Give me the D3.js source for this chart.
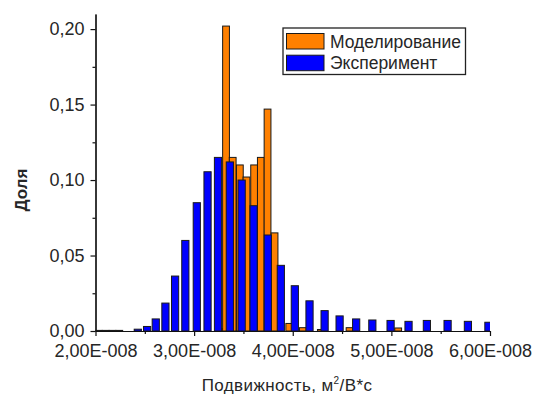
<!DOCTYPE html>
<html>
<head>
<meta charset="utf-8">
<script src="https://cdn.jsdelivr.net/npm/d3@7"></script>
<style>
  html, body { margin: 0; padding: 0; background: #fff; }
  svg { display: block; font-family: "Liberation Sans", Arial, sans-serif; }
</style>
</head>
<body>
<svg id="chart" width="535" height="394"></svg>
<script>
// Mobility bin centres, in units of 1E-008 m^2/(V*s)
const simulationX = [2.034, 2.103, 2.172, 2.241, 3.2596, 3.3235, 3.391, 3.4635, 3.531, 3.6085,
                     3.6765, 3.7444, 3.8154, 3.9645, 4.1024, 4.285, 4.576, 5.069];
// Share of each simulated bin ("Моделирование")
const simulationShare = [0.0004, 0.0004, 0.0004, 0.0004, 0.0015, 0.202, 0.115, 0.110, 0.102, 0.110,
                         0.115, 0.147, 0.065, 0.005, 0.0022, 0.001, 0.0022, 0.002];

const experimentX = [2.429, 2.523, 2.611, 2.709, 2.807, 2.911, 3.027, 3.136, 3.242, 3.362,
                     3.482, 3.603, 3.747, 3.879, 4.021, 4.170, 4.323, 4.475, 4.643, 4.807,
                     4.992, 5.174, 5.360, 5.570, 5.776, 5.984];
// Share of each measured bin ("Эксперимент")
const experimentShare = [0.0012, 0.003, 0.008, 0.0185, 0.0364, 0.060, 0.085, 0.1055, 0.115, 0.112,
                         0.100, 0.083, 0.0636, 0.0435, 0.030, 0.020, 0.0135, 0.010, 0.008, 0.0073,
                         0.007, 0.0064, 0.007, 0.007, 0.0064, 0.0058];

const xTickValues = [2, 3, 4, 5, 6];
const xTickLabels = ["2,00E-008", "3,00E-008", "4,00E-008", "5,00E-008", "6,00E-008"];
const xMinorTicks = [2.5, 3.5, 4.5, 5.5];
const yTickValues = [0, 0.05, 0.10, 0.15, 0.20];
const yTickLabels = ["0,00", "0,05", "0,10", "0,15", "0,20"];
const yMinorTicks = [0.025, 0.075, 0.125, 0.175];

const seriesNames = ["Моделирование", "Эксперимент"];
const seriesColors = ["#ff8000", "#0000ff"];

const svg = d3.select("#chart");
const plot = { left: 95.5, right: 490, top: 14, bottom: 331 };

const x = d3.scaleLinear().domain([2, 6]).range([plot.left, plot.right]);
const y = d3.scaleLinear().domain([0, 0.21]).range([plot.bottom, plot.top]);

const textColor = "#262626";
const barStroke = "#1a1a1a";

svg.append("defs").append("clipPath").attr("id", "plotClip")
  .append("rect")
  .attr("x", plot.left).attr("y", 0)
  .attr("width", plot.right - plot.left).attr("height", plot.bottom + 1);

const bars = svg.append("g").attr("clip-path", "url(#plotClip)");

function drawSeries(xs, vals, color, w) {
  const rows = xs.map((v, i) => ({ x: v, v: vals[i] }));
  bars.append("g").selectAll("rect").data(rows).join("rect")
    .attr("x", d => x(d.x) - w / 2)
    .attr("y", d => y(d.v))
    .attr("width", w)
    .attr("height", d => y(0) - y(d.v))
    .attr("fill", color)
    .attr("stroke", barStroke)
    .attr("stroke-width", 1);
}

// Simulated bins underneath, measured bins on top
drawSeries(simulationX, simulationShare, seriesColors[0], 6.8);
drawSeries(experimentX, experimentShare, seriesColors[1], 7.2);

// Axes
svg.append("g").attr("transform", `translate(0,${plot.bottom})`)
  .call(d3.axisBottom(x).tickValues(xTickValues)
    .tickFormat((d, i) => xTickLabels[i]).tickSize(5).tickPadding(8).tickSizeOuter(0));
svg.append("g").attr("transform", `translate(0,${plot.bottom})`)
  .call(d3.axisBottom(x).tickValues(xMinorTicks).tickFormat("").tickSize(3).tickSizeOuter(0));

svg.append("g").attr("transform", `translate(${plot.left},0)`)
  .call(d3.axisLeft(y).tickValues(yTickValues)
    .tickFormat((d, i) => yTickLabels[i]).tickSize(5).tickPadding(6).tickSizeOuter(0));
svg.append("g").attr("transform", `translate(${plot.left},0)`)
  .call(d3.axisLeft(y).tickValues(yMinorTicks).tickFormat("").tickSize(3).tickSizeOuter(0));

svg.selectAll(".domain, .tick line").attr("stroke", "#111").attr("stroke-width", 1.2);
svg.selectAll(".tick text").attr("fill", textColor).style("font-size", "18px");

// Axis titles
svg.append("text")
  .attr("transform", `translate(27,190) rotate(-90)`)
  .attr("text-anchor", "middle")
  .attr("fill", textColor)
  .style("font-size", "17px").style("font-weight", "bold")
  .text("Доля");

const xt = svg.append("text")
  .attr("x", 287).attr("y", 391)
  .attr("text-anchor", "middle")
  .attr("fill", textColor)
  .style("font-size", "17px")
  .style("letter-spacing", "0.4px");
xt.append("tspan").text("Подвижность, м");
xt.append("tspan").attr("dy", -7).style("font-size", "10px").text("2");
xt.append("tspan").attr("dy", 7).text("/В*с");

// Legend
const legend = svg.append("g");
legend.append("rect")
  .attr("x", 283).attr("y", 28).attr("width", 182.5).attr("height", 46.5)
  .attr("fill", "#fff").attr("stroke", "#222").attr("stroke-width", 1.3);
seriesNames.forEach((name, i) => {
  const yy = 33.5 + i * 21.7;
  legend.append("rect")
    .attr("x", 286.5).attr("y", yy).attr("width", 37.5).attr("height", 15.5)
    .attr("fill", seriesColors[i]).attr("stroke", barStroke).attr("stroke-width", 1);
  legend.append("text")
    .attr("x", 330).attr("y", yy + 8).attr("dy", "0.35em")
    .attr("fill", textColor)
    .style("font-size", "17.5px")
    .text(name);
});
</script>
</body>
</html>
